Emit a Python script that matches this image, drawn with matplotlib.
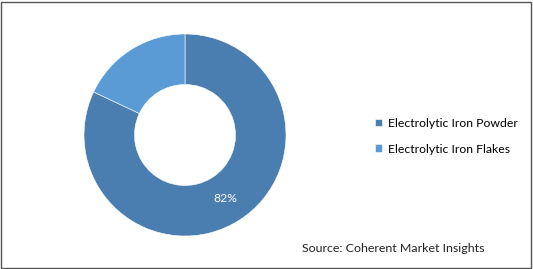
import matplotlib
matplotlib.use("Agg")
import matplotlib.pyplot as plt
from matplotlib.patches import Rectangle

plt.rcParams["font.family"] = ["Lato", "DejaVu Sans"]

categories = ["Electrolytic Iron Powder", "Electrolytic Iron Flakes"]
shares = [82, 18]
colors = ["#4A7EB0", "#5B9BD5"]
source = "Source: Coherent Market Insights"

W, H = 533, 269
fig = plt.figure(figsize=(W / 100, H / 100), dpi=100)

# outer frame
fig.patches.append(Rectangle((1 / W, 1 / H), (W - 3) / W, (H - 3) / H, transform=fig.transFigure,
                             fill=False, edgecolor="#555555", linewidth=1.0))

# donut: centre ~(185,135) px, radius ~101 px
ax = fig.add_axes([84 / W, (H - 236) / H, 202 / W, 202 / H])
wedges, _, autotexts = ax.pie(
    shares, colors=colors, startangle=90, counterclock=False, radius=1.0,
    autopct=lambda p: f"{p:.0f}%" if p > 50 else "", pctdistance=0.75,
    wedgeprops=dict(width=0.5, edgecolor="white", linewidth=0.4),
    textprops=dict(color="white", fontsize=8.7))
ax.set_aspect("equal")
ax.set_xlim(-1, 1); ax.set_ylim(-1, 1)

fig.legend(wedges, categories, loc="upper left", bbox_to_anchor=(370 / W, 1 - 113 / H),
           frameon=False, fontsize=8.8, handlelength=0.6, handleheight=0.6,
           handletextpad=0.45, labelspacing=1.2, borderaxespad=0)

fig.text(302 / W, 1 - 248 / H, source, fontsize=8.9, va="center", ha="left", color="#222222")

fig.savefig("out.png", dpi=100)
